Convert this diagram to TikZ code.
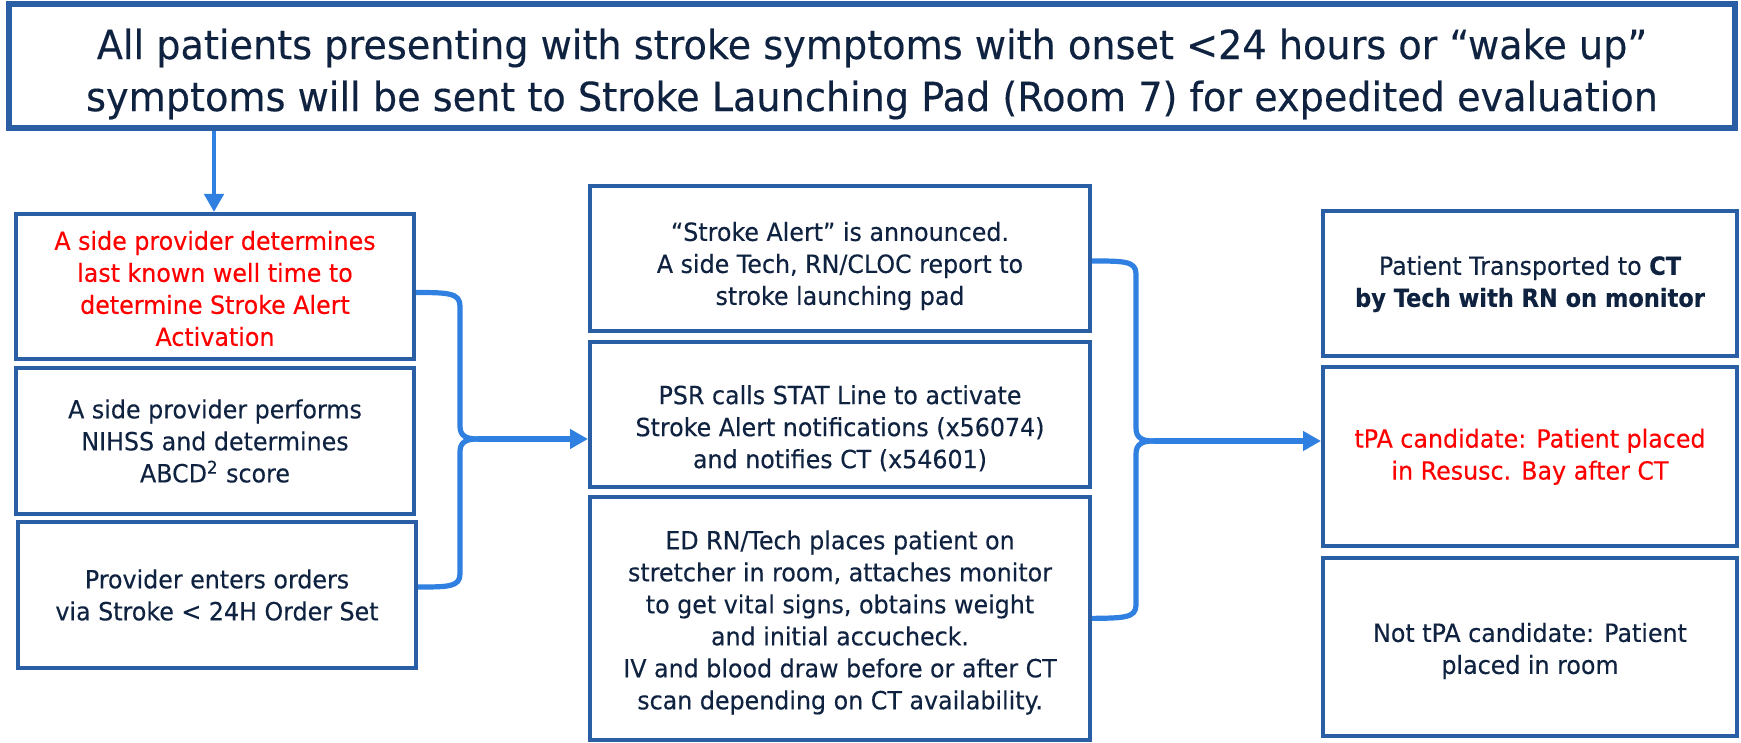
\documentclass[tikz,border=0pt]{standalone}
\usepackage{fontspec}
\setmainfont{DejaVu Sans}[FakeStretch=0.95, FakeBold=0.3, BoldFeatures={FakeStretch=0.9}]
\usetikzlibrary{arrows.meta,calc}
\definecolor{bord}{HTML}{2A5FA5}
\definecolor{conn}{HTML}{2F80E0}
\definecolor{txt}{HTML}{0F2341}
\definecolor{alertred}{HTML}{FF0000}
\begin{document}
\begin{tikzpicture}[x=0.5pt,y=-0.5pt,
  box/.style={draw=bord, line width=2pt, fill=white, inner sep=0pt},
  boxtext/.style={text=txt, align=center, font=\fontsize{12.5}{16}\selectfont, inner sep=0pt},
  redtext/.style={text=alertred},
  conn line/.style={draw=conn, line width=2.6pt, line join=round, line cap=butt},
  tip/.style={-{Triangle[length=9pt,width=9.5pt]}}
]
\useasboundingbox (0,0) rectangle (1741,743);
\node[box, line width=2.8pt, minimum width=863pt, minimum height=62pt] (top) at (872,66) {};
\node[boxtext, font=\fontsize{20.1}{26}\selectfont, yshift=-4pt] (topt) at (top)
  {All patients presenting with stroke symptoms with onset <24 hours or “wake up”\\
   symptoms will be sent to Stroke Launching Pad (Room 7) for expedited evaluation};

\node[box, minimum width=199pt, minimum height=72.5pt] (a1) at (215,286.5) {};
\node[boxtext, redtext, yshift=-1pt] (a1t) at (a1)
  {A side provider determines\\ last known well time to\\ determine Stroke Alert\\ Activation};
\node[box, minimum width=199pt, minimum height=73pt] (a2) at (215,441) {};
\node[boxtext] (a2t) at (a2)
  {A side provider performs\\ NIHSS and determines\\ ABCD\textsuperscript{2} score};
\node[box, minimum width=199pt, minimum height=73pt] (a3) at (217,595) {};
\node[boxtext] (a3t) at (a3)
  {Provider enters orders\\ via Stroke < 24H Order Set};

\node[box, minimum width=250pt, minimum height=72.5pt] (b1) at (840,259) {};
\node[boxtext, yshift=-3.5pt] (b1t) at (b1)
  {“Stroke Alert” is announced.\\ A side Tech, RN/CLOC report to\\ stroke launching pad};
\node[box, minimum width=250pt, minimum height=72.7pt] (b2) at (840,414.3) {};
\node[boxtext, yshift=-7pt] (b2t) at (b2)
  {PSR calls STAT Line to activate\\ Stroke Alert notifications (x56074)\\ and notifies CT (x54601)};
\node[box, minimum width=250pt, minimum height=121.6pt] (b3) at (840,618.4) {};
\node[boxtext, yshift=-2pt] (b3t) at (b3)
  {ED RN/Tech places patient on\\ stretcher in room, attaches monitor\\ to get vital signs, obtains weight\\ and initial accucheck.\\ IV and blood draw before or after CT\\ scan depending on CT availability.};

\node[box, minimum width=207pt, minimum height=72.5pt] (c1) at (1530,284) {};
\node[boxtext] (c1t) at (c1)
  {Patient Transported to \textbf{CT}\\ \textbf{by Tech with RN on monitor}};
\node[box, minimum width=207pt, minimum height=89.3pt] (c2) at (1530,456.7) {};
\node[boxtext, redtext] (c2t) at (c2)
  {tPA candidate: Patient placed\\ in Resusc. Bay after CT};
\node[box, minimum width=207pt, minimum height=89.2pt] (c3) at (1530,647) {};
\node[boxtext, yshift=-2pt] (c3t) at (c3)
  {Not tPA candidate: Patient\\ placed in room};

% down arrow
\coordinate (dx) at (214,0);
\draw[conn line, tip, line width=2.4pt] (top.south -| dx) -- (a1.north -| dx);

% left bracket
\coordinate (lj) at (478,439);
\draw[conn line] ($(a1.east)+(0,6)$) .. controls (448,292.5) and (460,293) .. (460,306)
  -- (460,426) .. controls (460,436) and (466,439) .. (lj);
\draw[conn line] ($(a3.east)+(0,-8)$) .. controls (448,587) and (460,587) .. (460,574)
  -- (460,452) .. controls (460,442) and (466,439) .. (lj);
\draw[conn line, tip] (lj) -- (b2.west |- lj);

% right bracket
\coordinate (rj) at (1154,441);
\draw[conn line] ($(b1.east)+(0,2)$) .. controls (1124,261) and (1136,261) .. (1136,274)
  -- (1136,428) .. controls (1136,438) and (1142,441) .. (rj);
\draw[conn line] ($(b3.east)+(0,0)$) .. controls (1124,618) and (1136,618) .. (1136,605)
  -- (1136,454) .. controls (1136,444) and (1142,441) .. (rj);
\draw[conn line, tip] (rj) -- (c2.west |- rj);
\end{tikzpicture}
\end{document}
